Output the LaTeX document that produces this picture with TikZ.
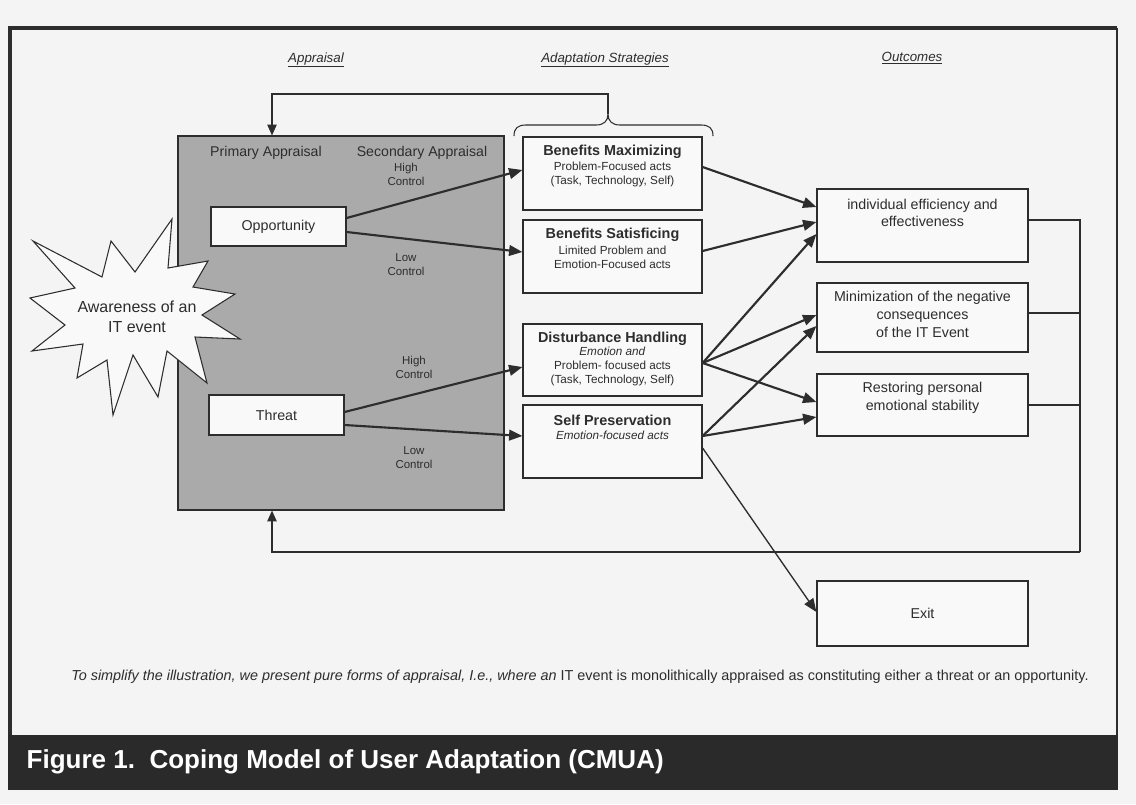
\documentclass[tikz,border=0pt]{standalone}
\usepackage{fontspec}
\setmainfont{Liberation Sans}
\usetikzlibrary{arrows.meta}
\definecolor{pagebg}{RGB}{244,244,244}
\definecolor{apgrey}{RGB}{170,170,170}
\definecolor{ink}{RGB}{45,45,45}
\definecolor{band}{RGB}{42,42,42}
\definecolor{boxfill}{RGB}{249,249,249}
\begin{document}
\begin{tikzpicture}[x=0.75pt,y=-0.75pt,
  bx/.style 2 args={minimum width=#1*0.75pt, minimum height=#2*0.75pt},
  sbox/.style={draw=ink, line width=0.9pt, fill=boxfill, inner sep=0pt, text=ink},
  apbox/.style={draw=ink, line width=0.9pt, fill=apgrey, inner sep=0pt},
  hdr/.style={text=ink, font=\fontsize{10}{12}\selectfont\itshape},
  lbl/.style={text=ink, font=\fontsize{10.6}{12.5}\selectfont},
  ctl/.style={text=ink, align=center, font=\fontsize{8.6}{10.5}\selectfont},
  ttl/.style={text=ink, font=\fontsize{10.8}{13}\selectfont\bfseries},
  bdy/.style={text=ink, align=center, font=\fontsize{8.8}{10.5}\selectfont},
  otx/.style={text=ink, align=center, font=\fontsize{10.7}{13.3}\selectfont},
  thk/.style={draw=ink, line width=1.6pt, -{Triangle[length=10pt,width=8pt]}},
  thn/.style={draw=ink, line width=1pt, -{Triangle[length=10pt,width=8pt]}},
  fb/.style={draw=ink, line width=0.8pt},
  fbarrow/.style={draw=ink, line width=0.8pt, -{Triangle[length=8pt,width=7pt]}}
]
\useasboundingbox (0,0) rectangle (1136,804);
\fill[pagebg] (0,0) rectangle (1136,804);

% frame and band
\fill[band] (8,735) rectangle (1118,790);
\draw[ink, line width=2.8pt] (10,735) -- (10,28) -- (1117,28);
\draw[ink, line width=1.4pt] (1117,28) -- (1117,735);
\node[anchor=west, text=white, font=\fontsize{19.5}{22}\selectfont\bfseries] (figttl) at (22,762) {Figure 1.\ \ Coping Model of User Adaptation (CMUA)};

% headers
\node[hdr] (h1) at (316,60) {\underline{Appraisal}};
\node[hdr] (h2) at (605,60) {\underline{Adaptation Strategies}};
\node[hdr] (h3) at (912,58) {\underline{Outcomes}};

% appraisal area
\node[apbox, bx={326}{374}] (appr) at (341,323) {};
\node[lbl] (pa) at (266,153) {Primary Appraisal};
\node[lbl] (sa) at (422,153) {Secondary Appraisal};
\node[ctl] (hc1) at (406,174) {High\\Control};
\node[ctl] (lc1) at (406,265) {Low\\Control};
\node[ctl] (hc2) at (414,367) {High\\Control};
\node[ctl] (lc2) at (414,457.5) {Low\\Control};
\node[sbox, bx={135}{39}, font=\fontsize{10.7}{13}\selectfont] (opp) at (278.5,226.5) {Opportunity};
\node[sbox, bx={135}{40}, font=\fontsize{10.7}{13}\selectfont] (thr) at (276.5,415) {Threat};

% star
\draw[ink, line width=0.8pt, fill=boxfill] (33,241) -- (102,277) -- (111,241) -- (135,272) -- (172,219) -- (168,268) -- (208,261) -- (193,287) -- (235,294) -- (202,315) -- (240,339) -- (195,337) -- (207,383) -- (167,351) -- (158,397) -- (133,355) -- (113,415) -- (107,360) -- (77,378) -- (83,344) -- (32,351) -- (65,325) -- (30,298) -- (75,288) -- cycle;
\node[text=ink, align=center, font=\fontsize{12}{15}\selectfont] (aware) at (137,317) {Awareness of an\\IT event};

% strategies
\node[sbox, bx={179}{73}] (bm) at (612.5,173.5) {};
\node[ttl] (bmt) at (612.5,152) {Benefits Maximizing};
\node[bdy] (bmb) at (612.5,174) {Problem-Focused acts\\(Task, Technology, Self)};
\node[sbox, bx={179}{73}] (bs) at (612.5,256.5) {};
\node[ttl] (bst) at (612.5,235) {Benefits Satisficing};
\node[bdy] (bsb) at (612.5,257.5) {Limited Problem and\\Emotion-Focused acts};
\node[sbox, bx={179}{72}] (dh) at (612.5,360) {};
\node[ttl] (dht) at (612.5,339) {Disturbance Handling};
\node[bdy] (dhb) at (612.5,366.5) {\textit{Emotion and}\\Problem- focused acts\\(Task, Technology, Self)};
\node[sbox, bx={179}{73}] (sp) at (612.5,441.5) {};
\node[ttl] (spt) at (612.5,420) {Self Preservation};
\node[bdy] (spb) at (612.5,435) {\textit{Emotion-focused acts}};

% outcomes
\node[sbox, bx={211}{73}] (iee) at (922.5,225.5) {};
\node[otx] (ieet) at (922.5,213) {individual efficiency and\\effectiveness};
\node[sbox, bx={211}{69}] (minb) at (922.5,317.5) {};
\node[otx] (mint) at (922.5,314.5) {Minimization of the negative\\consequences\\of the IT Event};
\node[sbox, bx={211}{62}] (rpes) at (922.5,405) {};
\node[otx] (rpest) at (922.5,398) {Restoring personal\\emotional stability};
\node[sbox, bx={211}{65}] (exitb) at (922.5,613.5) {};
\node[otx] (exitt) at (922.5,613) {Exit};

% brace and top feedback
\draw[fb] (514,136) .. controls (514,128) and (518,125) .. (526,125) -- (596,125) .. controls (604,125) and (608,121) .. (608,114) .. controls (608,121) and (612,125) .. (620,125) -- (701,125) .. controls (709,125) and (713,128) .. (713,136);
\coordinate (bracetip) at (608,114);
\coordinate (fbTL) at (272,94);
\draw[fbarrow] (bracetip) |- (fbTL) -- (fbTL |- appr.north);

% bottom feedback
\coordinate (fbR) at (1080,552);
\coordinate (fbL) at (272,552);
\draw[fb] (iee.east |- 0,220) -| (fbR);
\draw[fb] (minb.east |- 0,313) -- (fbR |- 0,313);
\draw[fb] (rpes.east) -- (rpes.east -| fbR);
\draw[fbarrow] (fbR) -- (fbL) -- (fbL |- appr.south);

% appraisal arrows
\draw[thk] (opp.east |- 0,218) -- (bm.west |- 0,170);
\draw[thk] (opp.east |- 0,232) -- (bs.west |- 0,252);
\draw[thk] (thr.east |- 0,412) -- (dh.west |- 0,367);
\draw[thk] (thr.east |- 0,425) -- (sp.west |- 0,436);

% outcome arrows
\draw[thk] (bm.east |- 0,167) -- (iee.west |- 0,207);
\draw[thk] (bs.east |- 0,251) -- (iee.west |- 0,222);
\draw[thk] (dh.east |- 0,363) -- (iee.west |- 0,234);
\draw[thk] (dh.east |- 0,363) -- (minb.west |- 0,315);
\draw[thk] (dh.east |- 0,363) -- (rpes.west |- 0,402);
\draw[thk] (sp.east |- 0,436) -- (minb.west |- 0,326);
\draw[thk] (sp.east |- 0,436) -- (rpes.west |- 0,417);
\draw[thn] (sp.east |- 0,448) -- (exitb.west |- 0,612);

% caption
\node[text=ink, font=\fontsize{10.8}{13}\selectfont] (cap) at (580,677) {\textit{To simplify the illustration, we present pure forms of appraisal, I.e., where an} IT event is monolithically appraised as constituting either a threat or an opportunity.};
\end{tikzpicture}
\end{document}
